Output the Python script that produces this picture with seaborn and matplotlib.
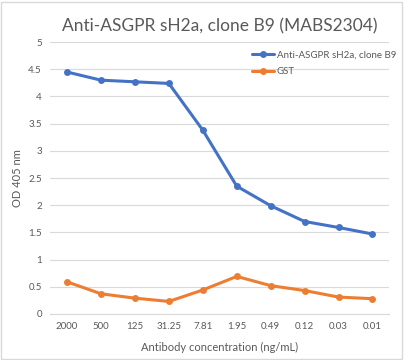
import pandas as pd
import seaborn as sns
import matplotlib.pyplot as plt
from matplotlib.patches import Rectangle

#   chart data
concentrations = ['2000', '500', '125', '31.25', '7.81', '1.95', '0.49', '0.12', '0.03', '0.01']
asgpr_od = [4.45, 4.30, 4.27, 4.24, 3.38, 2.35, 1.99, 1.70, 1.59, 1.47]
gst_od = [0.59, 0.37, 0.29, 0.23, 0.44, 0.69, 0.52, 0.43, 0.31, 0.28]
series_names = ['Anti-ASGPR sH2a, clone B9', 'GST']

df = pd.DataFrame({
    'Concentration': concentrations * 2,
    'OD': asgpr_od + gst_od,
    'Series': [series_names[0]] * len(concentrations) + [series_names[1]] * len(concentrations),
})

sns.set_style('white')
plt.rcParams['font.family'] = ['Lato', 'DejaVu Sans']

fig = plt.figure(figsize=(4.04, 3.6), dpi=100)
ax = fig.add_axes([0.124, 0.128, 0.84, 0.755])

sns.lineplot(data=df, x='Concentration', y='OD', hue='Series', sort=False,
             palette=['#4472C4', '#ED7D31'], marker='o', markersize=5,
             markeredgewidth=0, linewidth=2.2, ax=ax)

ax.set_ylim(0, 5)
ax.set_yticks([0, 0.5, 1, 1.5, 2, 2.5, 3, 3.5, 4, 4.5, 5])
ax.set_yticklabels(['0', '0.5', '1', '1.5', '2', '2.5', '3', '3.5', '4', '4.5', '5'])
ax.set_xlim(-0.5, len(concentrations) - 0.5)
ax.yaxis.grid(True, color='#D9D9D9', linewidth=0.8)
ax.set_axisbelow(True)
for s in ['top', 'right', 'left']:
    ax.spines[s].set_visible(False)
ax.spines['bottom'].set_color('#D9D9D9')
ax.tick_params(axis='both', length=0, labelsize=7, colors='#595959', pad=6)

ax.set_xlabel('Antibody concentration (ng/mL)', fontsize=8, color='#595959', labelpad=8)
ax.set_ylabel('OD 405 nm', fontsize=8, color='#595959', labelpad=4)
ax.set_title('Anti-ASGPR sH2a, clone B9 (MABS2304)', fontsize=12.5, color='#595959', pad=8)

leg = ax.legend(loc='upper right', bbox_to_anchor=(1.045, 1.0), frameon=False, fontsize=7,
                handlelength=2.2, handletextpad=0.3, labelspacing=0.75)
for t in leg.get_texts():
    t.set_color('#595959')

fig.patches.append(Rectangle((0.003, 0.003), 0.992, 0.992, transform=fig.transFigure,
                             fill=False, edgecolor='#D9D9D9', linewidth=1))

fig.savefig('out.png', dpi=100)
